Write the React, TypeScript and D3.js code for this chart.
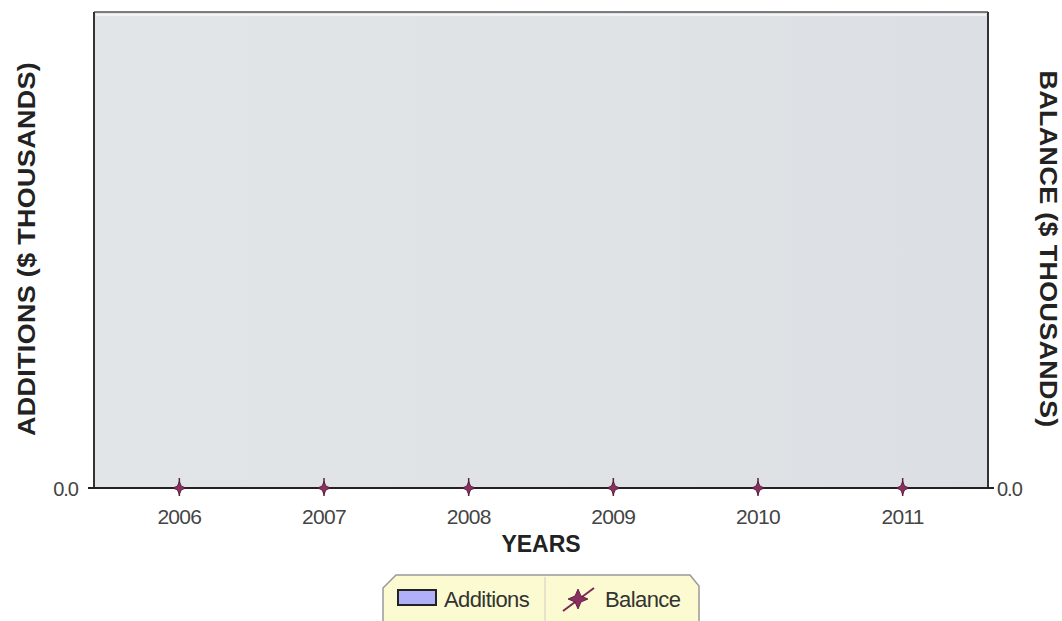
import React from "react";
import * as d3 from "d3";

const years = ["2006", "2007", "2008", "2009", "2010", "2011"];
const additions = [0, 0, 0, 0, 0, 0];
const balance = [0, 0, 0, 0, 0, 0];
const yTicks = [0];

const W = 1062;
const H = 621;
const M = { left: 94, right: 988, top: 12, bottom: 488 };

export default function App() {
  const x = d3.scalePoint<string>().domain(years).range([M.left, M.right]).padding(0.59);
  const yL = d3.scaleLinear().domain([0, 1]).range([M.bottom, M.top]);
  const yR = d3.scaleLinear().domain([0, 1]).range([M.bottom, M.top]);
  const bw = 60;
  const line = d3
    .line<number>()
    .x((_, i) => x(years[i]) as number)
    .y((d) => yR(d));
  const star = (cx: number, cy: number, s: number) => {
    const a = s, b = s * 0.3;
    return `M${cx},${cy - a} L${cx + b},${cy - b} L${cx + a},${cy} L${cx + b},${cy + b} L${cx},${cy + a} L${cx - b},${cy + b} L${cx - a},${cy} L${cx - b},${cy - b} Z`;
  };
  const font = "'Liberation Sans', Arial, sans-serif";
  return (
    <svg width={W} height={H} style={{ position: "absolute", left: 0, top: 0, background: "#fff" }} fontFamily={font}>
      <defs>
        <linearGradient id="bg" x1="0" x2="1" y1="0" y2="0">
          <stop offset="0" stopColor="#e2e5e8" />
          <stop offset="0.5" stopColor="#e0e3e6" />
          <stop offset="1" stopColor="#dcdfe3" />
        </linearGradient>
      </defs>
      <rect x={M.left} y={M.top} width={M.right - M.left} height={M.bottom - M.top} fill="url(#bg)" />
      <line x1={M.left + 2} x2={M.right - 2} y1={M.top + 3} y2={M.top + 3} stroke="#f2f3f4" strokeWidth={2} />
      {/* bars */}
      {additions.map((v, i) => (
        <rect key={i} x={(x(years[i]) as number) - bw / 2} y={yL(v)} width={bw} height={M.bottom - yL(v)} fill="#b0b0f8" stroke="#222" />
      ))}
      {/* frame */}
      <line x1={M.left} x2={M.right} y1={M.top} y2={M.top} stroke="#555" strokeWidth={1.5} />
      <line x1={M.left} x2={M.left} y1={M.top} y2={M.bottom} stroke="#333" strokeWidth={2} />
      <line x1={M.right} x2={M.right} y1={M.top} y2={M.bottom} stroke="#333" strokeWidth={2} />
      {/* balance line */}
      <path d={line(balance) || ""} fill="none" stroke="#7a2a55" strokeWidth={2} />
      <line x1={M.left} x2={M.right} y1={M.bottom} y2={M.bottom} stroke="#222" strokeWidth={2} />
      {balance.map((v, i) => (
        <g key={i}>
          <line x1={(x(years[i]) as number)} x2={(x(years[i]) as number)} y1={yR(v) - 10} y2={yR(v) + 8} stroke="#5a2040" strokeWidth={1.5} />
          <path d={star(x(years[i]) as number, yR(v), 6.5)} fill="#8a3060" stroke="#4a1530" strokeWidth={0.8} />
        </g>
      ))}
      {/* y ticks */}
      {yTicks.map((t) => (
        <g key={"l" + t}>
          <line x1={M.left - 6} x2={M.left} y1={yL(t)} y2={yL(t)} stroke="#222" strokeWidth={2} />
          <text x={M.left - 16} y={yL(t) + 8} textAnchor="end" fontSize={20} fill="#444" letterSpacing={-1}>
            {d3.format(".1f")(t)}
          </text>
        </g>
      ))}
      {yTicks.map((t) => (
        <g key={"r" + t}>
          <line x1={M.right} x2={M.right + 6} y1={yR(t)} y2={yR(t)} stroke="#222" strokeWidth={2} />
          <text x={M.right + 9} y={yR(t) + 8} textAnchor="start" fontSize={20} fill="#444" letterSpacing={-1}>
            {d3.format(".1f")(t)}
          </text>
        </g>
      ))}
      {/* x labels */}
      {years.map((yv) => (
        <text key={yv} x={x(yv) as number} y={524} textAnchor="middle" fontSize={21} fill="#444" letterSpacing={-0.7}>
          {yv}
        </text>
      ))}
      <text x={541} y={552} textAnchor="middle" fontSize={23} fontWeight="bold" fill="#222">YEARS</text>
      <text transform={`translate(35,249) rotate(-90) scale(1.17,1)`} textAnchor="middle" fontSize={23} fontWeight="bold" fill="#222" letterSpacing={0.3}>
        ADDITIONS ($ THOUSANDS)
      </text>
      <text transform={`translate(1040,249) rotate(90) scale(1.17,1)`} textAnchor="middle" fontSize={23} fontWeight="bold" fill="#222" letterSpacing={0.3}>
        BALANCE ($ THOUSANDS)
      </text>
      {/* legend */}
      <path d="M383,621 L383,588 L396,575 L690,575 L699,586 L699,621" fill="#fcfad0" stroke="#999" strokeWidth={1.5} />
      <line x1={545} x2={545} y1={577} y2={621} stroke="#ccc" />
      <rect x={398} y={590} width={38} height={15} fill="#b0b0f8" stroke="#222" strokeWidth={2} />
      <text x={444} y={607} fontSize={22} fill="#333" letterSpacing={-0.6}>Additions</text>
      <line x1={563} x2={594} y1={611} y2={588} stroke="#7a2a55" strokeWidth={2} />
      <path d={star(578, 599, 10)} fill="#8a3060" stroke="#4a1530" strokeWidth={0.8} />
      <text x={605} y={607} fontSize={22} fill="#333" letterSpacing={-0.6}>Balance</text>
    </svg>
  );
}
